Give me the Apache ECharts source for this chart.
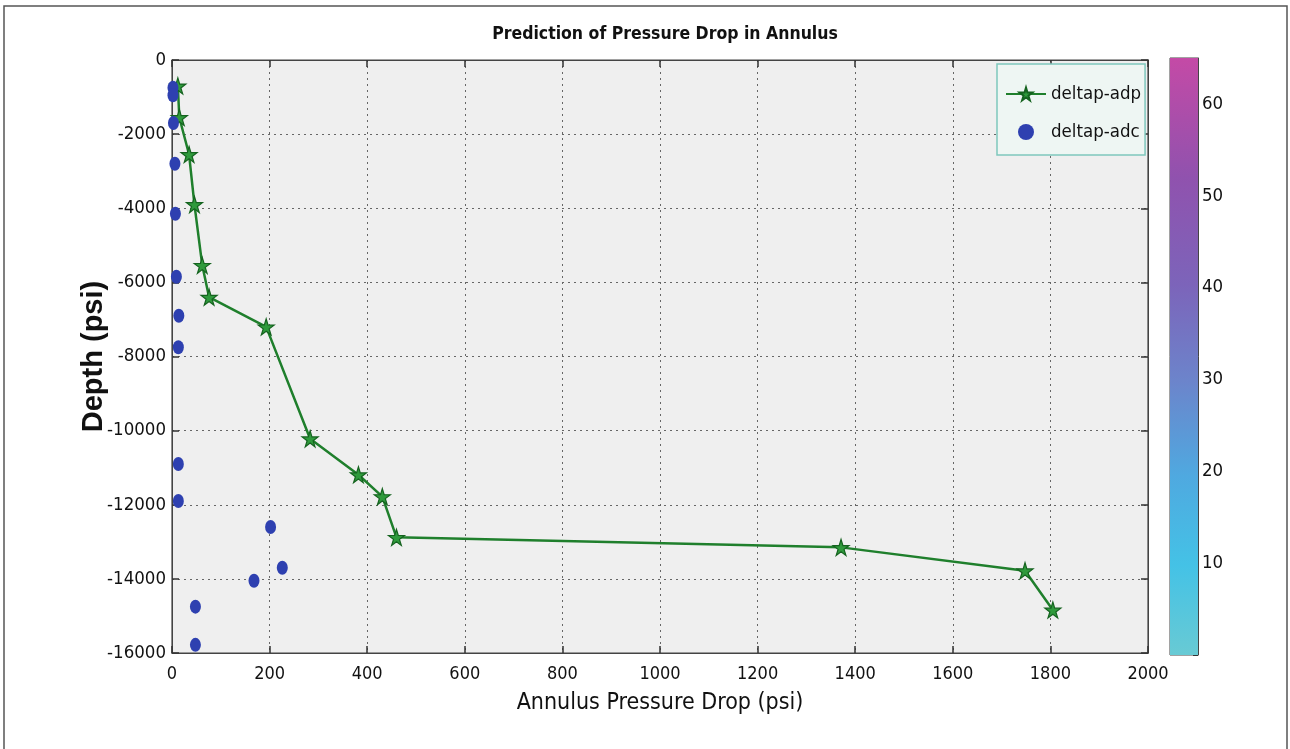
<!DOCTYPE html>
<html><head><meta charset="utf-8">
<script src="https://cdn.jsdelivr.net/npm/echarts@6/dist/echarts.min.js"></script>
<style>html,body{margin:0;padding:0;background:#fff}#c{width:1290px;height:749px}</style>
</head><body><div id="c"></div>
<script>
// deltap-adp (green line with stars)
const adpX = [12, 15, 35, 46, 62, 76, 193, 283, 382, 431, 460, 1371, 1748, 1805];
const adpY = [-700, -1550, -2550, -3900, -5540, -6400, -7200, -10220, -11190, -11780, -12880, -13150, -13780, -14840];
// deltap-adc (blue dots)
const adcX = [2, 2, 3, 6, 7, 9, 14, 13, 13, 13, 202, 226, 168, 48, 48];
const adcY = [-750, -950, -1700, -2800, -4150, -5850, -6900, -7750, -10900, -11900, -12600, -13700, -14050, -14750, -15780];
// colorbar range and ticks
const cbarMax = [65];
const cbarTicks = [10, 20, 30, 40, 50, 60];

const FONT = "'Liberation Sans Narrow','DejaVu Sans Condensed','Roboto Condensed','Liberation Sans',Arial,sans-serif";
const STAR = 'path://M50,0 L61,35 L98,35 L68,57 L79,91 L50,70 L21,91 L32,57 L2,35 L39,35 Z';
const plain = v => String(v);

const chart = echarts.init(document.getElementById('c'));
chart.setOption({
  backgroundColor: '#fff',
  animation: false,
  title: {
    text: 'Prediction of Pressure Drop in Annulus',
    left: 660, top: 20, textAlign: 'center',
    textStyle: {fontFamily: FONT, fontSize: 17.5, fontWeight: 'bold', color: '#111'}
  },
  legend: {
    orient: 'vertical', left: 997, top: 64,
    itemWidth: 40, itemHeight: 16, itemGap: 16,
    padding: [19, 4, 12, 8],
    borderColor: '#7fc7bd', borderWidth: 1.5, backgroundColor: '#eef6f3',
    textStyle: {fontFamily: FONT, fontSize: 18.5, color: '#111', lineHeight: 22},
    data: ['deltap-adp', 'deltap-adc']
  },
  graphic: [{
    type: 'rect', shape: {x: 4, y: 6, width: 1283, height: 800},
    style: {fill: 'none', stroke: '#555', lineWidth: 1.5}, silent: true, z: -1
  }],
  grid: [
    {left: 172, top: 60, right: 142, bottom: 96, show: true, backgroundColor: '#efefef', borderColor: '#444', borderWidth: 1.2},
    {left: 1170, top: 58, width: 28, bottom: 94, show: true, borderColor: '#444', borderWidth: 1}
  ],
  xAxis: [
    {type: 'value', gridIndex: 0, min: 0, max: 2000, interval: 200,
     name: 'Annulus Pressure Drop (psi)', nameLocation: 'middle', nameGap: 39,
     nameTextStyle: {fontFamily: FONT, fontSize: 23, color: '#111'},
     axisLine: {show: true, onZero: false, lineStyle: {color: '#444'}},
     axisTick: {show: true, inside: true, length: 7, lineStyle: {color: '#333', width: 1.5}},
     axisLabel: {fontFamily: FONT, fontSize: 18, color: '#111', margin: 12, formatter: plain},
     splitLine: {show: true, lineStyle: {color: '#666', type: [2, 4], width: 1}}},
    {type: 'value', gridIndex: 0, position: 'top', min: 0, max: 2000, interval: 200,
     axisLine: {show: true, onZero: false, lineStyle: {color: '#444'}},
     axisTick: {show: true, inside: true, length: 7, lineStyle: {color: '#333', width: 1.5}},
     axisLabel: {show: false}, splitLine: {show: false}},
    {type: 'category', gridIndex: 1, data: ['c'], show: false}
  ],
  yAxis: [
    {type: 'value', gridIndex: 0, min: -16000, max: 0, interval: 2000,
     name: 'Depth (psi)', nameLocation: 'middle', nameGap: 64, nameMoveOverlap: false,
     nameTextStyle: {fontFamily: "'Liberation Sans',Arial,sans-serif", fontSize: 29, fontWeight: 'bold', color: '#111'},
     axisLine: {show: true, onZero: false, lineStyle: {color: '#444'}},
     axisTick: {show: true, inside: true, length: 7, lineStyle: {color: '#333', width: 1.5}},
     axisLabel: {fontFamily: FONT, fontSize: 18.5, color: '#111', margin: 6, formatter: plain},
     splitLine: {show: true, lineStyle: {color: '#666', type: [2, 4], width: 1}}},
    {type: 'value', gridIndex: 0, position: 'right', min: -16000, max: 0, interval: 2000,
     axisLine: {show: true, onZero: false, lineStyle: {color: '#444'}},
     axisTick: {show: true, inside: true, length: 7, lineStyle: {color: '#333', width: 1.5}},
     axisLabel: {show: false}, splitLine: {show: false}},
    {type: 'value', gridIndex: 1, position: 'right', min: 0, max: cbarMax[0], interval: 10,
     axisLine: {show: true, onZero: false, lineStyle: {color: '#444'}},
     axisTick: {show: true, inside: true, length: 5, lineStyle: {color: '#333'}},
     axisLabel: {fontFamily: FONT, fontSize: 18.5, color: '#111', margin: 4,
       formatter: v => cbarTicks.indexOf(v) >= 0 ? String(v) : ''},
     splitLine: {show: false}}
  ],
  series: [
    {name: 'deltap-adp', type: 'line', xAxisIndex: 0, yAxisIndex: 0,
     data: adpX.map((x, i) => [x, adpY[i]]),
     symbol: STAR, symbolSize: 16,
     lineStyle: {color: '#1f7f2c', width: 2.5},
     itemStyle: {color: '#2f9a3c', borderColor: '#15631f', borderWidth: 1.2},
     z: 3},
    {name: 'deltap-adc', type: 'scatter', xAxisIndex: 0, yAxisIndex: 0,
     data: adcX.map((x, i) => [x, adcY[i]]),
     symbol: 'circle', symbolSize: [11, 14],
     itemStyle: {color: '#2e40b0', opacity: 1}, z: 4},
    {name: 'colorbar', type: 'bar', xAxisIndex: 2, yAxisIndex: 2,
     data: cbarMax, barWidth: '100%', silent: true,
     itemStyle: {color: new echarts.graphic.LinearGradient(0, 1, 0, 0, [
       {offset: 0, color: '#68cad4'},
       {offset: 0.15, color: '#44c2e6'},
       {offset: 0.3, color: '#4fa9e0'},
       {offset: 0.46, color: '#6c84cb'},
       {offset: 0.62, color: '#7c64ba'},
       {offset: 0.8, color: '#9052ae'},
       {offset: 1, color: '#c44aa6'}
     ])}}
  ]
});
</script></body></html>
